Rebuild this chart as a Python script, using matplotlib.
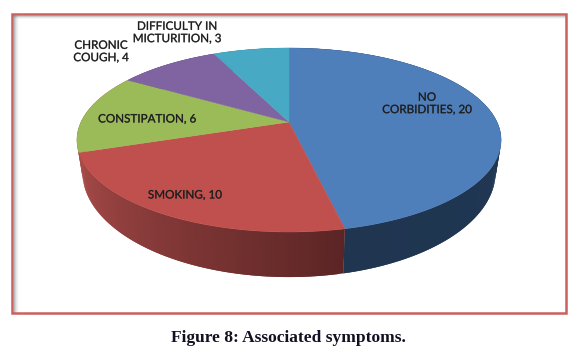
import numpy as np
import matplotlib
matplotlib.use("Agg")
import matplotlib.pyplot as plt
import matplotlib.patheffects as pe
from matplotlib.colors import to_rgb
from matplotlib.patches import Rectangle

# data
categories = ["NO\nCORBIDITIES", "SMOKING", "CONSTIPATION", "CHRONIC\nCOUGH", "DIFFICULTY IN\nMICTURITION"]
values = [20, 10, 6, 4, 3]
top_colors = ["#4f7fba", "#c0504d", "#9bbb59", "#8064a2", "#48a9c4"]
wall_left = ["#1f3550", "#a84b49", "#a84b49", "#5c4775", "#2f7a8e"]
wall_right = ["#213a58", "#5c2525", "#a84b49", "#5c4775", "#2f7a8e"]
label_centers = [(427, 103.5), (185, 195), (147, 119), (101, 51.5), (177, 32.5)]
title = "Figure 8: Associated symptoms."

# projection of the tilted disc to the page (pixel axes)
CX, K = 289.0, 0.1956
TOP = dict(cy=122.0, A=208.0, B=88.5)
BOT = dict(cy=151.5, A=202.6, B=101.0)


def project(theta, g):
    """theta is clockwise from 12 o'clock."""
    u, v = np.sin(theta), np.cos(theta)
    w = 1 + K * v
    return CX + g["A"] * u / w, g["cy"] - g["B"] * v / w


fig = plt.figure(figsize=(5.79, 3.59), dpi=100)
ax = fig.add_axes([0, 0, 1, 1])
ax.set_xlim(0, 579)
ax.set_ylim(359, 0)
ax.axis("off")

# frame with inner shadow
L, T, R, Bm = 12, 14, 566, 313
for i, a in enumerate([0.40, 0.26, 0.15, 0.07, 0.03]):
    ax.plot([L + 1.5 + i, L + 1.5 + i], [T, Bm], color="#555555", alpha=a, lw=0.72, zorder=1, solid_capstyle="butt")
for i, a in enumerate([0.30, 0.14, 0.05]):
    ax.plot([L, R], [T + 1.5 + i, T + 1.5 + i], color="#555555", alpha=a, lw=0.72, zorder=1, solid_capstyle="butt")
ax.add_patch(Rectangle((L, T), R - L, Bm - T, fill=False, ec="#c9605e", lw=1.8, zorder=2))

edges = 2 * np.pi * np.concatenate([[0], np.cumsum(values)]) / np.sum(values)

# side wall: overlapping strips painted without outlines, so no seams show
for i in range(len(values)):
    n = max(int(values[i] * 8), 8)
    ts = np.linspace(edges[i], edges[i + 1], n + 1)
    c0 = np.array(to_rgb(wall_left[i]))
    c1 = np.array(to_rgb(wall_right[i]))
    for j in range(n):
        th = np.linspace(ts[j], ts[min(j + 2, n)], 4)
        xt, yt = project(th, TOP)
        xb, yb = project(th, BOT)
        f = j / (n - 1)
        # slices run clockwise, so the front wall runs right to left
        col = c1 * (1 - f) + c0 * f
        ax.fill(np.r_[xt, xb[::-1]], np.r_[yt, yb[::-1]], color=col, lw=0, zorder=3)

# top face
for i in range(len(values)):
    th = np.linspace(edges[i], edges[i + 1], 120)
    x, y = project(th, TOP)
    ax.fill(np.r_[CX, x], np.r_[TOP["cy"], y], color=top_colors[i], lw=0.3, zorder=4)

# labels
for cat, val, (lx, ly) in zip(categories, values, label_centers):
    t = ax.text(lx, ly, f"{cat}, {val}", ha="center", va="center", family="Lato",
                fontsize=8.4, color="#1c1c1c", linespacing=1.15, zorder=6)
    t.set_path_effects([pe.withStroke(linewidth=0.35, foreground="#333333", alpha=0.6)])

ax.text(288.5, 338, title, ha="center", va="center", family="Liberation Serif",
        fontweight="bold", fontsize=12.5, color="#111122", zorder=6)

fig.savefig("out.png", dpi=100, facecolor="white")
